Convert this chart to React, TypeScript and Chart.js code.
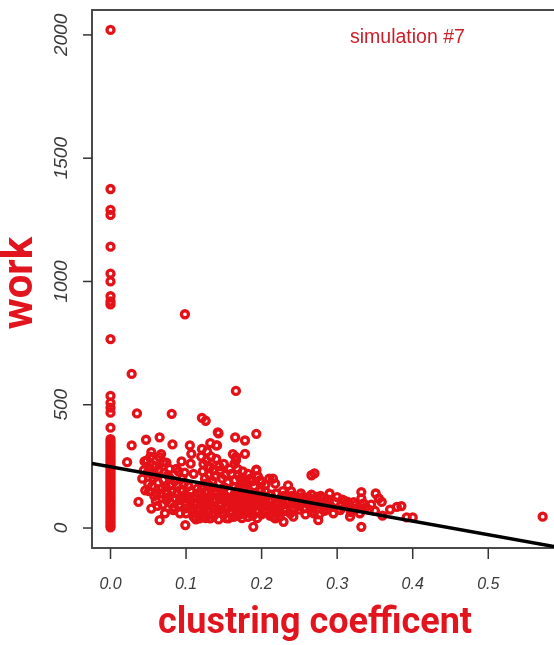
import React, { useEffect, useRef } from "react";
import { Chart, registerables } from "chart.js";

Chart.register(...registerables);

// Points with clustering coefficient exactly 0 (the vertical column)
const zeroColumnWork = [
  2020, 1375, 1290, 1270, 1141, 1032, 1000, 940, 919, 907, 766,
  536, 508, 488, 468, 407, 360, 350, 340, 330, 320, 310, 300, 290, 280, 270,
  260, 250, 240, 230, 220, 210, 200, 190, 180, 170, 160, 150, 140, 130, 120,
  110, 100, 90, 80, 70, 60, 50, 40, 30, 20, 10, 3,
];

// Remaining points: clustering coefficient and work (parallel arrays)
const clusteringCoef = [
  0.0985, 0.028, 0.035, 0.081, 0.166, 0.121, 0.126, 0.572,
  0.028, 0.047, 0.065, 0.082, 0.022, 0.054, 0.048, 0.065, 0.07, 0.044, 0.057, 0.046,
  0.037, 0.054, 0.065, 0.076, 0.079, 0.061, 0.074, 0.083, 0.099, 0.092, 0.105, 0.105,
  0.107, 0.106, 0.11, 0.121, 0.132, 0.141, 0.143, 0.127, 0.132, 0.145, 0.165, 0.178,
  0.166, 0.178, 0.165, 0.18, 0.118, 0.132, 0.156,
  0.193, 0.193, 0.178, 0.215, 0.218, 0.235, 0.266, 0.198, 0.189, 0.229, 0.218, 0.275,
  0.242, 0.248, 0.273, 0.29, 0.288, 0.315, 0.304, 0.332, 0.332, 0.332, 0.266, 0.317,
  0.18, 0.18, 0.198, 0.215, 0.215, 0.242, 0.255, 0.281,
  0.351, 0.359, 0.379, 0.385, 0.392, 0.4, 0.314, 0.27,
  0.166, 0.166, 0.193, 0.142, 0.14,
  0.095, 0.1, 0.1, 0.103, 0.108, 0.11, 0.112, 0.115, 0.115, 0.118, 0.12, 0.122, 0.125,
  0.125, 0.128, 0.13, 0.13, 0.133, 0.135, 0.137, 0.138, 0.14, 0.142, 0.145, 0.146,
  0.148, 0.15, 0.15, 0.152, 0.155, 0.157, 0.158, 0.16, 0.162, 0.163, 0.165, 0.167,
  0.17, 0.17, 0.172, 0.175, 0.175, 0.178, 0.18, 0.183, 0.185, 0.186, 0.188, 0.19,
  0.192, 0.195, 0.196, 0.2, 0.2, 0.203, 0.205, 0.207, 0.21, 0.212, 0.22, 0.222, 0.225,
  0.228, 0.23, 0.233, 0.238, 0.24, 0.245, 0.25, 0.252, 0.258, 0.26, 0.262, 0.268,
  0.27, 0.276, 0.28, 0.283, 0.29, 0.295, 0.3, 0.305, 0.31, 0.32, 0.325, 0.33, 0.338,
  0.345, 0.35, 0.355, 0.36, 0.37,
  0.05, 0.052, 0.058, 0.06, 0.062, 0.068, 0.07, 0.072, 0.075, 0.078, 0.08, 0.085,
  0.088, 0.09, 0.092, 0.095, 0.097,
  0.12, 0.122, 0.125, 0.128, 0.135, 0.138, 0.14, 0.148, 0.15, 0.155, 0.16, 0.162,
  0.168, 0.172, 0.175, 0.185, 0.19, 0.2, 0.205, 0.21,
  0.101, 0.104, 0.106, 0.109, 0.111, 0.113, 0.116, 0.117, 0.119, 0.121, 0.123, 0.124,
  0.126, 0.127, 0.129, 0.131, 0.134, 0.136, 0.137, 0.139, 0.141, 0.143, 0.144, 0.147,
  0.149, 0.151, 0.153, 0.154, 0.156, 0.159, 0.161, 0.163, 0.164, 0.166, 0.168, 0.169,
  0.171, 0.173, 0.174, 0.176, 0.179, 0.181, 0.182, 0.184, 0.187, 0.189, 0.191, 0.194,
  0.197, 0.199, 0.201, 0.204, 0.206, 0.209, 0.211, 0.214, 0.217, 0.219, 0.221, 0.224,
  0.042, 0.045, 0.049, 0.051, 0.053, 0.055, 0.056, 0.059, 0.06, 0.063, 0.064, 0.066,
  0.067, 0.069, 0.071, 0.073, 0.074, 0.077, 0.079, 0.081, 0.084, 0.086, 0.087, 0.089,
  0.091, 0.093, 0.094, 0.096, 0.098, 0.099,
  0.226, 0.229, 0.232, 0.236, 0.239, 0.242, 0.246, 0.249, 0.253, 0.256, 0.259, 0.263,
  0.266, 0.269, 0.272, 0.275, 0.278, 0.282, 0.286, 0.289, 0.292, 0.297, 0.302, 0.307,
  0.312, 0.318, 0.322, 0.327, 0.335, 0.342,
  0.123, 0.126, 0.129, 0.131, 0.133, 0.136, 0.144, 0.152, 0.158, 0.164, 0.169, 0.174,
  0.182, 0.188, 0.195,
];

const work = [
  867, 625, 465, 463, 556, 447, 435, 46,
  335, 358, 368, 339, 267, 308, 274, 287, 267, 234, 202, 153,
  106, 79, 32, 214, 173, 140, 113, 73, 12, 113, 126, 335,
  301, 261, 220, 321, 344, 335, 384, 274, 247, 234, 368, 355,
  281, 301, 194, 180, 39, 39, 39,
  382, 234, 187, 200, 180, 173, 214, 194, 5, 25, 39, 32,
  79, 113, 126, 140, 106, 100, 73, 146, 120, 5, 66, 46,
  140, 73, 100, 86, 46, 46, 113, 86,
  140, 106, 86, 89, 43, 43, 106, 222,
  288, 274, 237, 388, 335,
  150, 95, 60, 170, 80, 45, 130, 100, 160, 70, 120, 50, 90,
  145, 110, 65, 175, 130, 85, 50, 150, 110, 70, 125, 95,
  160, 55, 135, 80, 105, 150, 65, 120, 90, 45, 140, 75,
  110, 160, 55, 95, 130, 60, 105, 150, 85, 120, 50, 95,
  140, 70, 115, 55, 130, 90, 150, 70, 110, 135, 95, 60, 120,
  150, 80, 105, 60, 130, 95, 75, 140, 55, 100, 125, 80,
  110, 55, 120, 70, 95, 60, 125, 90, 110, 75, 95, 60, 85,
  95, 70, 120, 50, 75,
  180, 240, 130, 250, 90, 160, 195, 60, 140, 240, 100, 190,
  140, 230, 60, 200, 180,
  290, 230, 200, 310, 190, 210, 280, 200, 260, 185, 220, 300,
  240, 200, 230, 200, 170, 185, 175, 200,
  130, 115, 150, 65, 95, 35, 140, 80, 110, 160, 75, 125,
  40, 95, 145, 100, 55, 115, 165, 80, 140, 35, 100, 75,
  115, 165, 40, 125, 85, 100, 60, 130, 165, 95, 50, 130,
  85, 145, 40, 115, 80, 125, 45, 100, 70, 130, 110, 40,
  90, 150, 105, 65, 125, 85, 50, 115, 70, 140, 105, 45,
  200, 270, 225, 150, 290, 170, 255, 215, 110, 185, 235, 140,
  300, 95, 225, 170, 265, 125, 200, 150, 85, 120, 240, 175,
  95, 155, 270, 125, 225, 80,
  95, 130, 70, 115, 150, 100, 120, 90, 125, 80, 110, 95,
  135, 60, 100, 80, 130, 105, 75, 115, 85, 105, 75, 115,
  90, 65, 105, 80, 100, 75,
  260, 180, 245, 215, 290, 235, 250, 215, 240, 260, 215, 180,
  220, 190, 210,
];

// Fitted regression line: work = intercept + slope * clustering
const regressionIntercept = 248.5;
const regressionSlope = -551;

const xTickValues = [0, 0.1, 0.2, 0.3, 0.4, 0.5];
const xTickLabels = ["0.0", "0.1", "0.2", "0.3", "0.4", "0.5"];
const yTickValues = [0, 500, 1000, 1500, 2000];
const yTickLabels = ["0", "500", "1000", "1500", "2000"];

const xTitle = "clustring coefficent";
const yTitle = "work";
const annotation = "simulation #7";

const X_MIN = -0.0245;
const X_MAX = 0.587;
const Y_MIN = -81;
const Y_MAX = 2101;

const RED = "rgb(228,18,24)";
const TITLE_RED = "rgb(226,20,30)";

export default function App() {
  const ref = useRef<HTMLCanvasElement | null>(null);

  useEffect(() => {
    if (!ref.current) return;
    const points = [
      ...zeroColumnWork.map((w) => ({ x: 0, y: w })),
      ...clusteringCoef.map((c, i) => ({ x: c, y: work[i] })),
    ];
    const linePts = [X_MIN, X_MAX].map((x) => ({
      x,
      y: regressionIntercept + regressionSlope * x,
    }));

    const axesPlugin = {
      id: "rAxes",
      beforeDatasetsDraw(chart: any) {
        const ctx = chart.ctx;
        const { left, top, right, bottom } = chart.chartArea;
        ctx.save();
        ctx.strokeStyle = "#4a4a4a";
        ctx.lineWidth = 2;
        ctx.beginPath();
        ctx.moveTo(right + 5, top);
        ctx.lineTo(left, top);
        ctx.lineTo(left, bottom);
        ctx.lineTo(right + 5, bottom);
        ctx.stroke();
        ctx.restore();
      },
      afterDraw(chart: any) {
        const ctx = chart.ctx;
        const { left, bottom } = chart.chartArea;
        const xs = chart.scales.x;
        const ys = chart.scales.y;
        ctx.save();
        ctx.strokeStyle = "#333";
        ctx.lineWidth = 1.5;
        ctx.fillStyle = "#3a3a3a";
        ctx.font = 'italic 19px "Liberation Sans", Arial, sans-serif';
        yTickValues.forEach((v, i) => {
          const py = ys.getPixelForValue(v);
          ctx.beginPath();
          ctx.moveTo(left - 9, py);
          ctx.lineTo(left, py);
          ctx.stroke();
          ctx.save();
          ctx.translate(62, py);
          ctx.rotate(-Math.PI / 2);
          ctx.textAlign = "center";
          ctx.textBaseline = "middle";
          ctx.fillText(yTickLabels[i], 0, 0);
          ctx.restore();
        });
        ctx.font = 'italic 16px "Liberation Sans", Arial, sans-serif';
        xTickValues.forEach((v, i) => {
          const px = xs.getPixelForValue(v);
          ctx.beginPath();
          ctx.moveTo(px, bottom);
          ctx.lineTo(px, bottom + 11);
          ctx.stroke();
          ctx.textAlign = "center";
          ctx.textBaseline = "middle";
          ctx.fillText(xTickLabels[i], px, 585);
        });
        // axis titles
        ctx.fillStyle = TITLE_RED;
        ctx.font = 'bold 36px Roboto, "Liberation Sans", sans-serif';
        ctx.textAlign = "center";
        ctx.textBaseline = "middle";
        ctx.fillText(xTitle, 315, 624);
        ctx.save();
        ctx.translate(21, 283);
        ctx.rotate(-Math.PI / 2);
        ctx.font = 'bold 42px Roboto, "Liberation Sans", sans-serif';
        ctx.fillText(yTitle, 0, 0);
        ctx.restore();
        // annotation
        ctx.fillStyle = "rgb(205,30,40)";
        ctx.font = '19.5px "Liberation Sans", Arial, sans-serif';
        ctx.fillText(annotation, xs.getPixelForValue(0.393), ys.getPixelForValue(1990));
        ctx.restore();
      },
    };

    const chart = new Chart(ref.current, {
      type: "scatter",
      data: {
        datasets: [
          {
            type: "line",
            data: linePts,
            borderColor: "#000",
            borderWidth: 3.5,
            pointRadius: 0,
            fill: false,
            order: 0,
          } as any,
          {
            type: "scatter",
            data: points,
            pointStyle: "circle",
            pointRadius: 3.5,
            pointBorderWidth: 3.3,
            borderColor: RED,
            backgroundColor: "rgba(0,0,0,0)",
            order: 1,
          } as any,
        ],
      },
      options: {
        animation: false,
        responsive: false,
        devicePixelRatio: 1,
        layout: { autoPadding: false, padding: { left: 92, top: 10, right: 0, bottom: 97 } },
        plugins: { legend: { display: false }, tooltip: { enabled: false } },
        scales: {
          x: { type: "linear", min: X_MIN, max: X_MAX, display: false },
          y: { type: "linear", min: Y_MIN, max: Y_MAX, display: false },
        },
      },
      plugins: [axesPlugin],
    });
    return () => chart.destroy();
  }, []);

  return (
    <div style={{ position: "absolute", left: 0, top: 0, width: 554, height: 645, background: "#fff" }}>
      <canvas ref={ref} width={554} height={645} style={{ display: "block" }} />
    </div>
  );
}
